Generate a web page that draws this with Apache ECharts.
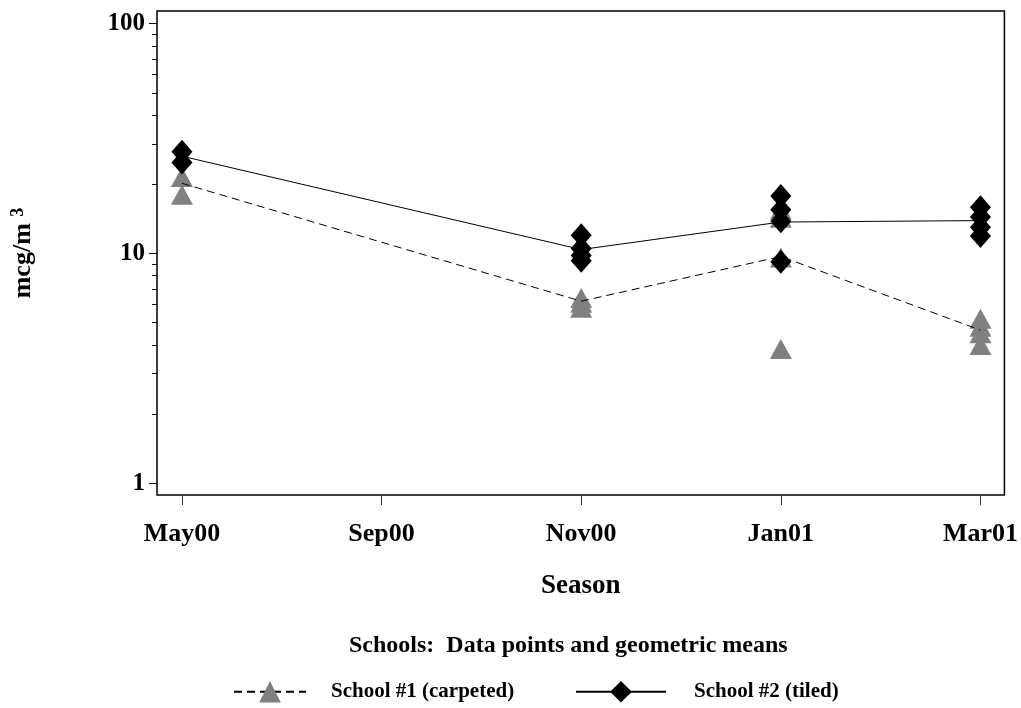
<!DOCTYPE html>
<html lang="en">
<head>
    <meta charset="UTF-8">
    <title>schools</title>
    <script src="https://cdn.jsdelivr.net/npm/echarts@6/dist/echarts.min.js"></script>
    <style>
        body { margin: 0; background: #fff; }
    </style>
</head>
<body>
<div id="main" style="width: 1021px;height:708px;"></div>
<script type="text/javascript">
    // seasons on the x axis (evenly spaced)
    var seasons = ['May00', 'Sep00', 'Nov00', 'Jan01', 'Mar01'];
    // individual samples, mcg/m3, one list per season
    var school1Points = [[21.5, 18.0], [], [6.4, 6.1, 5.8], [15.5, 14.3, 9.6, 3.84], [5.2, 4.8, 4.5, 4.0]];
    var school2Points = [[27.7, 24.9], [], [12.0, 10.5, 9.8, 9.3], [17.8, 15.5, 13.8, 9.2], [15.9, 14.4, 13.0, 11.9]];
    // geometric means
    var school1Means = [20.2, null, 6.2, 9.7, 4.64];
    var school2Means = [26.5, null, 10.4, 13.7, 13.9];
    var yMajor = [1, 10, 100];
    var yMinor = [2, 3, 4, 5, 6, 7, 8, 9, 20, 30, 40, 50, 60, 70, 80, 90];

    var font = 'Liberation Serif';
    var lg = function (v) { return Math.log10(v); };

    function toPoints(list) {
        var out = [];
        for (var i = 0; i < list.length; i++) {
            for (var j = 0; j < list[i].length; j++) {
                out.push([i, lg(list[i][j])]);
            }
        }
        return out;
    }
    function toMeans(list) {
        var out = [];
        for (var i = 0; i < list.length; i++) {
            out.push([i, list[i] == null ? null : lg(list[i])]);
        }
        return out;
    }

    var myChart = echarts.init(document.getElementById('main'));
    var yMin = -0.051, yMax = 2.055;

    var option = {
        animation: false,
        backgroundColor: '#fff',
        title: {
            text: 'Schools:  Data points and geometric means',
            left: 344,
            top: 629,
            textStyle: { fontFamily: font, fontSize: 24, fontWeight: 'bold', color: '#000' }
        },
        legend: [
            {
                data: ['School #1 (carpeted)'],
                left: 228, top: 676,
                itemWidth: 72, itemHeight: 27,
                textStyle: { fontFamily: font, fontSize: 21, fontWeight: 'bold', color: '#000', padding: [0, 0, 0, 20] }
            },
            {
                data: ['School #2 (tiled)'],
                left: 570, top: 676,
                itemWidth: 90, itemHeight: 27,
                textStyle: { fontFamily: font, fontSize: 21, fontWeight: 'bold', color: '#000', padding: [0, 0, 0, 23] }
            }
        ],
        grid: {
            left: 157, right: 15, top: 11, bottom: 213,
            show: true, borderColor: '#000', borderWidth: 1.5,
            containLabel: false
        },
        xAxis: {
            type: 'value',
            min: -0.125, max: 4.12,
            name: 'Season',
            nameLocation: 'middle',
            nameGap: 78,
            nameTextStyle: { fontFamily: font, fontSize: 27, fontWeight: 'bold', color: '#000' },
            axisLine: { show: false, onZero: false },
            splitLine: { show: false },
            axisTick: { show: true, length: 10, lineStyle: { color: '#333' }, customValues: [0, 1, 2, 3, 4] },
            axisLabel: {
                customValues: [0, 1, 2, 3, 4],
                margin: 26,
                fontFamily: font, fontSize: 26, fontWeight: 'bold', color: '#000',
                formatter: function (v) { return seasons[Math.round(v)]; }
            }
        },
        yAxis: [
            {
                type: 'value',
                min: yMin, max: yMax,
                name: 'mcg/m {sup|3}',
                nameLocation: 'middle',
                nameRotate: 90,
                nameGap: 120,
                nameTextStyle: {
                    fontFamily: font, fontSize: 26, fontWeight: 'bold', color: '#000',
                    rich: { sup: { fontFamily: font, fontSize: 18, fontWeight: 'bold', color: '#000', verticalAlign: 'top', padding: [0, 0, 10, 0] } }
                },
                axisLine: { show: false, onZero: false },
                splitLine: { show: false },
                axisTick: { show: true, length: 8, lineStyle: { color: '#000' }, customValues: yMajor.map(lg) },
                axisLabel: {
                    customValues: yMajor.map(lg),
                    margin: 12,
                    fontFamily: font, fontSize: 25, fontWeight: 'bold', color: '#000',
                    formatter: function (v) { return String(Math.round(Math.pow(10, v))); }
                }
            },
            {
                type: 'value',
                min: yMin, max: yMax,
                position: 'left',
                axisLine: { show: false, onZero: false },
                splitLine: { show: false },
                axisLabel: { show: false },
                axisTick: { show: true, length: 5, lineStyle: { color: '#000' }, customValues: yMinor.map(lg) }
            }
        ],
        series: [
            {
                name: 'School #1 points',
                type: 'scatter',
                symbol: 'triangle',
                symbolSize: [22, 20],
                itemStyle: { color: '#808080', opacity: 1 },
                z: 1,
                data: toPoints(school1Points)
            },
            {
                name: 'School #1 (carpeted)',
                type: 'line',
                symbol: 'triangle',
                showSymbol: false,
                connectNulls: true,
                itemStyle: { color: '#808080' },
                lineStyle: { color: '#000', width: 1, type: [8, 5] },
                z: 2,
                data: toMeans(school1Means)
            },
            {
                name: 'School #2 (tiled)',
                type: 'line',
                symbol: 'diamond',
                showSymbol: false,
                connectNulls: true,
                itemStyle: { color: '#000' },
                lineStyle: { color: '#000', width: 1 },
                z: 3,
                data: toMeans(school2Means)
            },
            {
                name: 'School #2 points',
                type: 'scatter',
                symbol: 'diamond',
                symbolSize: [21, 24],
                itemStyle: { color: '#000', opacity: 1 },
                z: 4,
                data: toPoints(school2Points)
            }
        ]
    };
    myChart.setOption(option);
</script>
</body>
</html>
